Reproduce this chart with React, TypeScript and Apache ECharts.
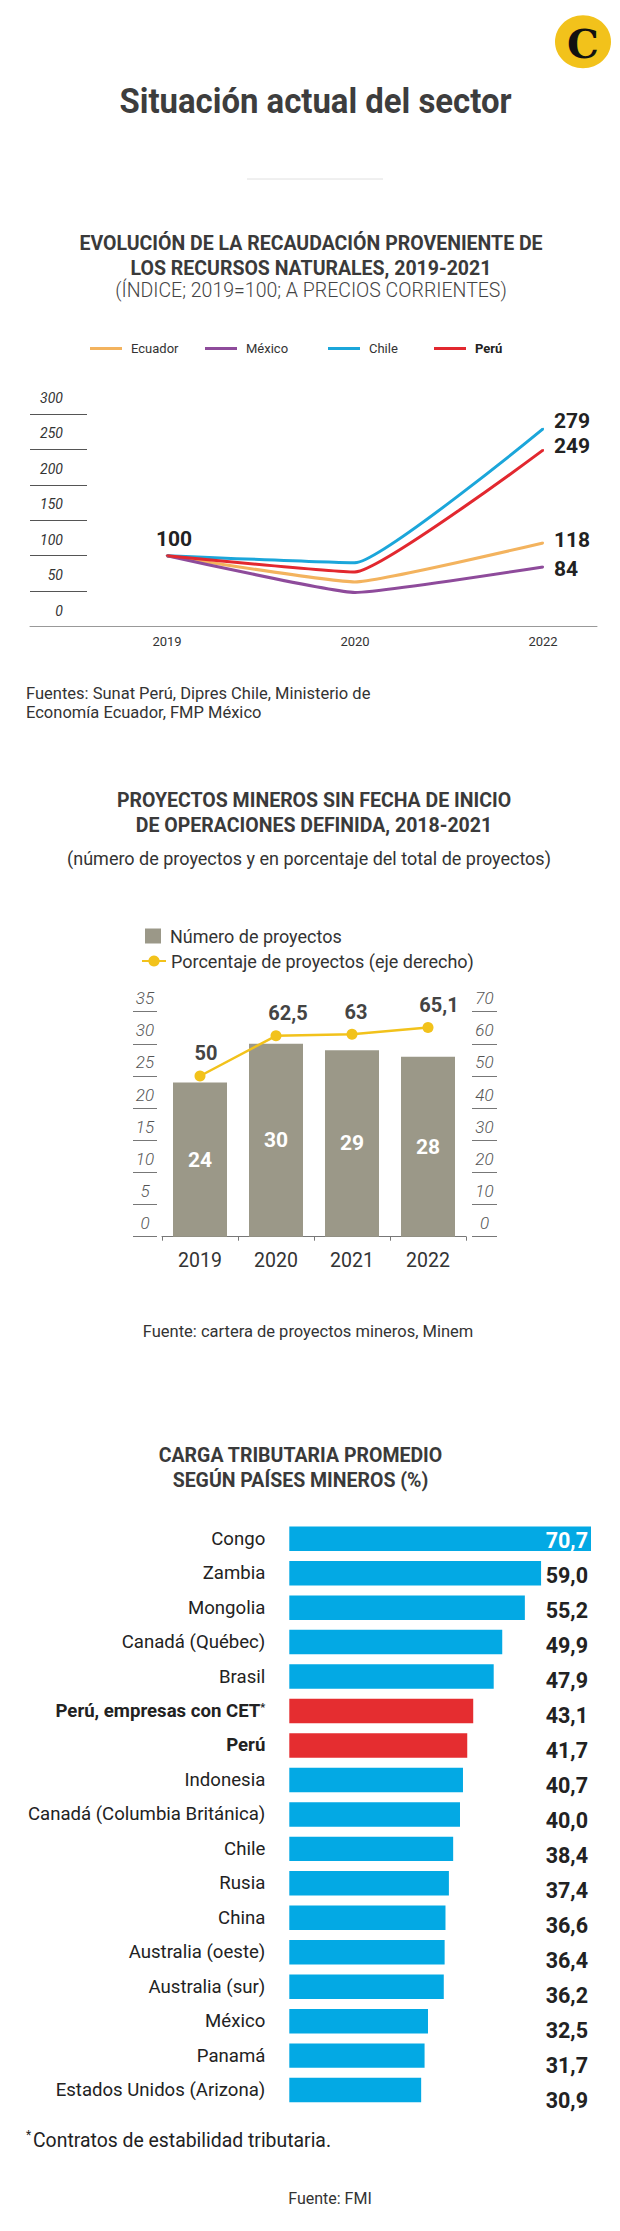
import React, { useEffect, useRef } from 'react';
import * as echarts from 'echarts';

// ---------- Chart 1: recaudación (índice 2019=100)
const years1 = ['2019', '2020', '2022'];
const ecuador = [100, 63, 118];
const mexico = [100, 48, 84];
const chile = [100, 90, 279];
const peru = [100, 77, 249];

// ---------- Chart 2: proyectos mineros
const years2 = ['2019', '2020', '2021', '2022'];
const projects = [24, 30, 29, 28];
const percent = [50, 62.5, 63, 65.1];

// ---------- Chart 3: carga tributaria
const countries = [
  'Congo', 'Zambia', 'Mongolia', 'Canadá (Québec)', 'Brasil', 'Perú, empresas con CET*', 'Perú',
  'Indonesia', 'Canadá (Columbia Británica)', 'Chile', 'Rusia', 'China', 'Australia (oeste)',
  'Australia (sur)', 'México', 'Panamá', 'Estados Unidos (Arizona)',
];
const taxLoad = [70.7, 59.0, 55.2, 49.9, 47.9, 43.1, 41.7, 40.7, 40.0, 38.4, 37.4, 36.6, 36.4, 36.2, 32.5, 31.7, 30.9];
const highlighted = ['Perú, empresas con CET*', 'Perú'];

const FONT = 'Roboto';
const C_ECU = '#F3B35E';
const C_MEX = '#8E4B9B';
const C_CHI = '#1BA6DA';
const C_PER = '#E2282F';
const C_BAR = '#9B9888';
const C_YEL = '#F2C21B';
const C_BLUE = '#03A9E4';
const C_RED = '#E52D30';

const comma = (v: number) => String(v).replace('.', ',');
const comma1 = (v: number) => v.toFixed(1).replace('.', ',');

function txt(x: number, y: number, text: string, font: string, fill = '#333', align = 'center', extra: any = {}) {
  return {
    type: 'text', x, y, ...extra,
    style: { text, font, fill, align, textAlign: align, verticalAlign: 'middle', textVerticalAlign: 'middle' },
  };
}

export default function App() {
  const ref = useRef<HTMLDivElement>(null);
  useEffect(() => {
    if (!ref.current) return;
    const chart = echarts.init(ref.current, undefined, { renderer: 'svg' });

    const endLabel = (offsetY: number) => ({
      show: true, position: 'right', distance: 10, offset: [0, offsetY],
      fontFamily: FONT, fontWeight: 'bold', fontSize: 21, color: '#222',
    });
    const lineData = (arr: number[], offY: number, first = false) =>
      arr.map((v, i) => {
        if (i === arr.length - 1) return { value: v, label: endLabel(offY) };
        if (i === 0 && first)
          return { value: v, label: { show: true, position: 'top', distance: 5, offset: [7, 0], fontFamily: FONT, fontWeight: 'bold', fontSize: 21, color: '#222' } };
        return { value: v };
      });
    const lineSeries = (name: string, color: string, data: any[]) => ({
      name, type: 'line', xAxisIndex: 0, yAxisIndex: 0, data, smooth: 0.12,
      symbol: 'circle', symbolSize: 2, showSymbol: true,
      lineStyle: { color, width: 3 }, itemStyle: { color },
      label: { show: false },
    });

    const pctOffsets = [6, 12, 4, 11];
    const maxTax = Math.max(...taxLoad);

    const legendBase = (name: any, left: number, top: number, extra: any = {}) => ({
      data: [name], left, top, selectedMode: false, orient: 'horizontal',
      textStyle: { fontFamily: FONT, fontSize: 13, color: '#333', padding: [0, 0, 0, 4] }, ...extra,
    });

    const option: any = {
      animation: false,
      backgroundColor: '#fff',
      textStyle: { fontFamily: FONT },
      legend: [
        legendBase('Ecuador', 85, 337, { icon: 'rect', itemWidth: 32, itemHeight: 3 }),
        legendBase('México', 200, 337, { icon: 'rect', itemWidth: 32, itemHeight: 3 }),
        legendBase('Chile', 323, 337, { icon: 'rect', itemWidth: 32, itemHeight: 3 }),
        legendBase({ name: 'Perú', textStyle: { fontWeight: 'bold', color: '#222' } }, 429, 337, { icon: 'rect', itemWidth: 32, itemHeight: 3 }),
        {
          data: ['Número de proyectos'], left: 140, top: 922, selectedMode: false, icon: 'rect',
          itemWidth: 16, itemHeight: 15,
          textStyle: { fontFamily: FONT, fontSize: 18, color: '#333', padding: [0, 0, 0, 4] },
        },
        {
          data: ['Porcentaje de proyectos (eje derecho)'], left: 136, top: 947, selectedMode: false,
          itemWidth: 24, itemHeight: 14,
          textStyle: { fontFamily: FONT, fontSize: 18, color: '#333', padding: [0, 0, 0, 0] },
        },
      ],
      grid: [
        { left: 167, width: 376, top: 414, height: 212.5 },
        { left: 30, width: 57, top: 414, height: 212.5 },
        { left: 30, width: 567, top: 414, height: 212.5 },
        { left: 162, width: 304, top: 1011.7, height: 225 },
        { left: 133, width: 24, top: 1011.7, height: 225 },
        { left: 472, width: 25, top: 1011.7, height: 225 },
        { left: 289.3, width: 301.7, top: 1521.5, height: 585.8 },
        { left: 289, width: 299, top: 1523.5, height: 594 },
      ],
      xAxis: [
        {
          gridIndex: 0, type: 'category', data: years1, boundaryGap: false,
          axisLine: { show: false }, axisTick: { show: false },
          axisLabel: { fontFamily: FONT, fontSize: 13, color: '#333', margin: 8 },
        },
        { gridIndex: 1, type: 'value', show: false },
        {
          gridIndex: 2, type: 'category', data: [''], axisTick: { show: false }, axisLabel: { show: false },
          axisLine: { show: true, lineStyle: { color: '#999', width: 1 } },
        },
        {
          gridIndex: 3, type: 'category', data: years2, boundaryGap: true,
          axisLine: { show: true, lineStyle: { color: '#777' } },
          axisTick: { show: true, length: 4, lineStyle: { color: '#777' } },
          axisLabel: { fontFamily: FONT, fontSize: 19.5, color: '#333', margin: 14 },
        },
        { gridIndex: 4, type: 'value', show: false },
        { gridIndex: 5, type: 'value', show: false },
        { gridIndex: 6, type: 'value', min: 0, max: maxTax, show: false },
        { gridIndex: 7, type: 'value', show: false },
      ],
      yAxis: [
        { gridIndex: 0, type: 'value', min: 0, max: 300, show: false },
        {
          gridIndex: 1, type: 'value', min: 0, max: 300, interval: 50, position: 'left',
          axisLine: { show: false }, axisTick: { show: false },
          splitLine: { show: true, lineStyle: { color: '#555', width: 1 } },
          axisLabel: {
            fontFamily: FONT, fontStyle: 'italic', fontSize: 14, color: '#333',
            align: 'right', margin: -33, verticalAlign: 'bottom', padding: [0, 0, 9, 0],
          },
        },
        { gridIndex: 2, type: 'value', min: 0, max: 1, show: false },
        { gridIndex: 3, type: 'value', min: 0, max: 35, show: false },
        { gridIndex: 3, type: 'value', min: 0, max: 70, show: false },
        {
          gridIndex: 4, type: 'value', min: 0, max: 35, interval: 5, position: 'left',
          axisLine: { show: false }, axisTick: { show: false },
          splitLine: { show: true, lineStyle: { color: '#777', width: 1 } },
          axisLabel: {
            fontFamily: FONT, fontStyle: 'italic', fontWeight: 300, fontSize: 17, color: '#555',
            align: 'center', margin: -12, verticalAlign: 'bottom', padding: [0, 0, 5, 0],
          },
        },
        {
          gridIndex: 5, type: 'value', min: 0, max: 70, interval: 10, position: 'left',
          axisLine: { show: false }, axisTick: { show: false },
          splitLine: { show: true, lineStyle: { color: '#777', width: 1 } },
          axisLabel: {
            fontFamily: FONT, fontStyle: 'italic', fontWeight: 300, fontSize: 17, color: '#555',
            align: 'center', margin: -12.5, verticalAlign: 'bottom', padding: [0, 0, 5, 0],
          },
        },
        {
          gridIndex: 6, type: 'category', data: countries, inverse: true,
          axisLine: { show: false }, axisTick: { show: false },
          axisLabel: {
            fontFamily: FONT, fontSize: 18.6, color: '#222', margin: 24,
            formatter: (v: string) => {
              if (v.endsWith('*')) return `{b|${v.slice(0, -1)}}{sup|*}`;
              if (highlighted.includes(v)) return `{b|${v}}`;
              return v;
            },
            rich: {
              b: { fontFamily: FONT, fontSize: 18.6, fontWeight: 'bold', color: '#222' },
              sup: { fontFamily: FONT, fontSize: 11, fontWeight: 'bold', color: '#222', verticalAlign: 'top', padding: [0, 0, 8, 0] },
            },
          },
        },
        {
          gridIndex: 7, type: 'category', data: taxLoad.map(comma1), inverse: true, position: 'right', z: 10,
          axisLine: { show: false }, axisTick: { show: false },
          axisLabel: {
            inside: true, margin: 0, fontFamily: FONT, fontSize: 21.5, fontWeight: 'bold',
            color: (_v: any, i: number) => (taxLoad[i] === maxTax ? '#fff' : '#222'),
          },
        },
      ],
      series: [
        lineSeries('Ecuador', C_ECU, lineData(ecuador, -3)),
        lineSeries('México', C_MEX, lineData(mexico, 2)),
        lineSeries('Chile', C_CHI, lineData(chile, -8, true)),
        lineSeries('Perú', C_PER, lineData(peru, -4)),
        {
          name: 'Número de proyectos', type: 'bar', xAxisIndex: 3, yAxisIndex: 3, data: projects,
          barWidth: 54, itemStyle: { color: C_BAR },
          label: { show: true, position: 'inside', fontFamily: FONT, fontWeight: 'bold', fontSize: 21, color: '#fff' },
        },
        {
          name: 'Porcentaje de proyectos (eje derecho)', type: 'line', xAxisIndex: 3, yAxisIndex: 4,
          data: percent.map((v, i) => ({ value: v, label: { offset: [pctOffsets[i], 0] } })),
          symbol: 'circle', symbolSize: 11, lineStyle: { color: C_YEL, width: 2.5 }, itemStyle: { color: C_YEL },
          label: {
            show: true, position: 'top', distance: 7, fontFamily: FONT, fontWeight: 'bold', fontSize: 20, color: '#444',
            formatter: (p: any) => comma(p.value),
          },
        },
        {
          name: 'Carga tributaria', type: 'bar', xAxisIndex: 6, yAxisIndex: 7, barWidth: '71%',
          data: taxLoad.map((v, i) => ({ value: v, itemStyle: { color: highlighted.includes(countries[i]) ? C_RED : C_BLUE } })),
        },
      ],
      graphic: [
        { type: 'ellipse', shape: { cx: 583, cy: 41.7, rx: 28, ry: 26.5 }, style: { fill: C_YEL } },
        txt(583, 43, 'C', 'bold 40px "DejaVu Serif"', '#111'),
        txt(315.5, 101, 'Situación actual del sector', 'bold 35px Roboto', '#3d3d3d', 'center', { scaleX: 0.94 }),
        { type: 'line', shape: { x1: 247, y1: 179, x2: 383, y2: 179 }, style: { stroke: '#e0e0e0', lineWidth: 1 } },
        txt(311, 243, 'EVOLUCIÓN DE LA RECAUDACIÓN PROVENIENTE DE', 'bold 19.5px Roboto', '#3a3a3a'),
        txt(311, 268, 'LOS RECURSOS NATURALES, 2019-2021', 'bold 19.5px Roboto', '#3a3a3a'),
        txt(311, 290, '(ÍNDICE; 2019=100; A PRECIOS CORRIENTES)', '300 19.5px Roboto', '#444'),
        txt(26, 693, 'Fuentes: Sunat Perú, Dipres Chile, Ministerio de', '16.5px Roboto', '#333', 'left'),
        txt(26, 712, 'Economía Ecuador, FMP México', '16.5px Roboto', '#333', 'left'),
        txt(314, 800, 'PROYECTOS MINEROS SIN FECHA DE INICIO', 'bold 19.5px Roboto', '#3a3a3a'),
        txt(314, 825, 'DE OPERACIONES DEFINIDA, 2018-2021', 'bold 19.5px Roboto', '#3a3a3a'),
        txt(309, 858, '(número de proyectos y en porcentaje del total de proyectos)', '18px Roboto', '#333'),
        txt(308, 1331, 'Fuente: cartera de proyectos mineros, Minem', '16.5px Roboto', '#333'),
        txt(300.5, 1455, 'CARGA TRIBUTARIA PROMEDIO', 'bold 19.5px Roboto', '#3a3a3a'),
        txt(300.5, 1480, 'SEGÚN PAÍSES MINEROS (%)', 'bold 19.5px Roboto', '#3a3a3a'),
        txt(26, 2135, '*', '12px Roboto', '#222', 'left'),
        txt(33, 2140, 'Contratos de estabilidad tributaria.', '19.4px Roboto', '#222', 'left'),
        txt(330, 2198, 'Fuente: FMI', '16px Roboto', '#333'),
      ],
    };

    chart.setOption(option);
    return () => chart.dispose();
  }, []);

  return <div ref={ref} style={{ position: 'absolute', left: 0, top: 0, width: 620, height: 2231 }} />;
}
